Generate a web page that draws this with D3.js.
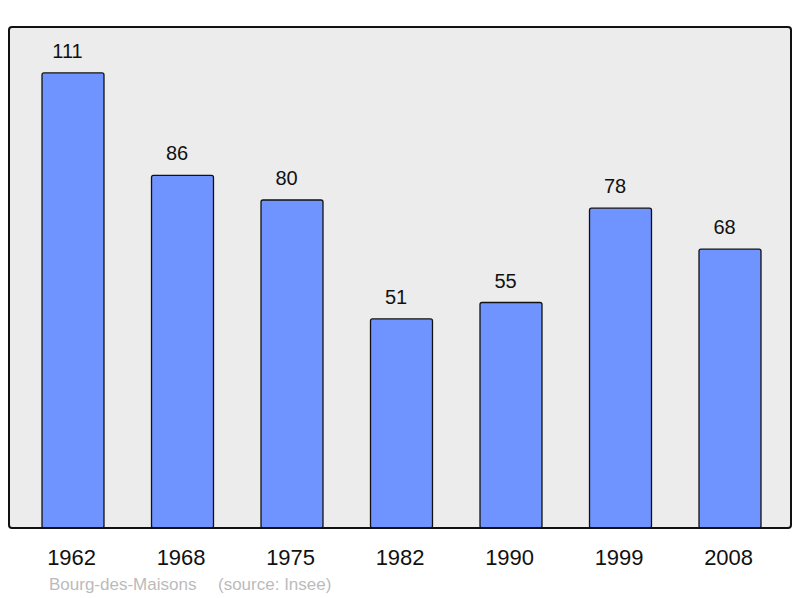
<!DOCTYPE html>
<html><head><meta charset="utf-8">
<script src="https://cdn.jsdelivr.net/npm/d3@7"></script>
<style>body{margin:0;background:#fff;}svg{display:block;font-family:"Liberation Sans",Arial,sans-serif;}</style>
</head><body>
<svg id="c" width="800" height="598"></svg>
<script>
const years = ["1962","1968","1975","1982","1990","1999","2008"];
const population = [111,86,80,51,55,78,68];
const title = "Bourg-des-Maisons";
const source = "(source: Insee)";

(function(){
const svg = d3.select("#c");
const pLeft = 9, pRight = 791, pTop = 27, pBottom = 528;

svg.append("rect").attr("x", pLeft).attr("y", pTop).attr("width", pRight-pLeft).attr("height", pBottom-pTop)
  .attr("rx", 3).attr("fill", "#ececec");

const x = d3.scaleBand().domain(years).range([18.25, 784.75]).paddingInner(0.434).paddingOuter(0.217);
const y = d3.scaleLinear().domain([0, 501/4.1]).range([pBottom, pTop]);

svg.selectAll("rect.bar").data(years).join("rect").attr("class","bar")
  .attr("x", d => x(d)).attr("width", x.bandwidth())
  .attr("y", (d,i) => y(population[i])).attr("height", (d,i) => pBottom - y(population[i]))
  .attr("rx", 2).attr("fill", "#7094ff").attr("stroke", "#111").attr("stroke-width", 1.3);

svg.selectAll("text.val").data(years).join("text").attr("class","val")
  .attr("x", d => x(d) + x.bandwidth()/2 - 5.5).attr("y", (d,i) => y(population[i]) - 15)
  .attr("text-anchor","middle").attr("font-size", 20).attr("fill","#111")
  .text((d,i) => population[i]);

svg.append("rect").attr("x", pLeft).attr("y", pTop).attr("width", pRight-pLeft).attr("height", pBottom-pTop)
  .attr("rx", 3).attr("fill", "none").attr("stroke", "#111").attr("stroke-width", 2);

const xAxis = d3.axisBottom(x).tickSize(0).tickPadding(0);
const g = svg.append("g").attr("transform", `translate(-1.4,${pBottom})`).call(xAxis);
g.select(".domain").remove();
g.selectAll("text").attr("font-size", 22).attr("fill","#111").attr("dy", null).attr("y", 37)
  .style("font-family", '"Liberation Sans",Arial,sans-serif');

svg.append("text").attr("x", 49).attr("y", 590).attr("font-size", 17).attr("fill","#bbb").text(title);
svg.append("text").attr("x", 218).attr("y", 590).attr("font-size", 17).attr("fill","#bbb").text(source);
})();
</script>
</body></html>
